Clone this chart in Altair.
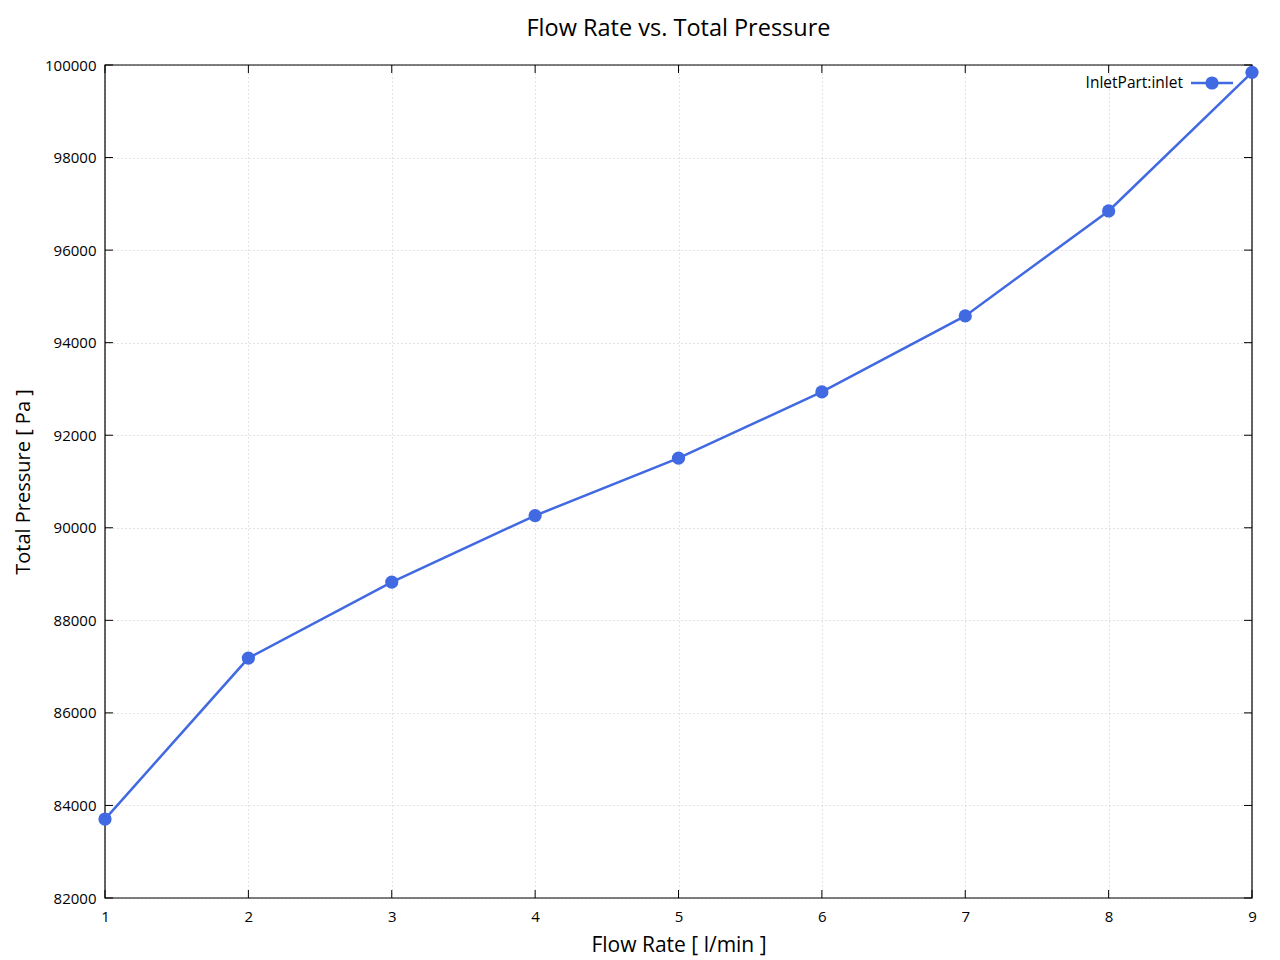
import altair as alt
import pandas as pd

flow_rate = [1, 2, 3, 4, 5, 6, 7, 8, 9]
total_pressure = [83706, 87184, 88826, 90264, 91504, 92936, 94578, 96846, 99842]
series_name = "InletPart:inlet"
x_ticks = [1, 2, 3, 4, 5, 6, 7, 8, 9]
y_ticks = [82000, 84000, 86000, 88000, 90000, 92000, 94000, 96000, 98000, 100000]

W, H = 1147, 833
FONT = "Open Sans"
COLOR = "#4169E1"

df = pd.DataFrame({"flow": flow_rate, "pressure": total_pressure, "series": series_name})
xt = pd.DataFrame({"xv": x_ticks})
yt = pd.DataFrame({"yv": y_ticks})
leg = pd.DataFrame({"series": [series_name]})

xscale = alt.Scale(domain=[1, 9], nice=False, zero=False)
yscale = alt.Scale(domain=[82000, 100000], nice=False, zero=False)

xaxis = alt.Axis(values=x_ticks, grid=True, gridDash=[1, 3], gridColor="#c8c8c8",
                 ticks=False, domain=False, labelPadding=11, labelFontSize=15,
                 labelFlush=False, labelFont=FONT, titleFont=FONT, titleFontSize=21,
                 titleFontWeight="normal", titlePadding=10, labelColor="black",
                 titleColor="black", format="d")
yaxis = alt.Axis(values=y_ticks, grid=True, gridDash=[1, 3], gridColor="#c8c8c8",
                 ticks=False, domain=False, labelPadding=9, labelFontSize=15,
                 labelFlush=False, labelFont=FONT, titleFont=FONT, titleFontSize=20,
                 titleFontWeight="normal", titlePadding=11, labelColor="black",
                 titleColor="black", format="d")

base = alt.Chart(df)
line = base.mark_line(color=COLOR, strokeWidth=2.5).encode(
    x=alt.X("flow:Q", scale=xscale, axis=xaxis, title="Flow Rate [ l/min ]"),
    y=alt.Y("pressure:Q", scale=yscale, axis=yaxis, title="Total Pressure [ Pa ]"),
)
pts = base.mark_circle(color=COLOR, opacity=1, size=175).encode(
    x=alt.X("flow:Q", scale=xscale),
    y=alt.Y("pressure:Q", scale=yscale),
)

tick_len = 8
bt = alt.Chart(xt).mark_rule(color="black", strokeWidth=1).encode(
    x=alt.X("xv:Q", scale=xscale), y=alt.value(H), y2=alt.value(H - tick_len))
tt = alt.Chart(xt).mark_rule(color="black", strokeWidth=1).encode(
    x=alt.X("xv:Q", scale=xscale), y=alt.value(0), y2=alt.value(tick_len))
lt = alt.Chart(yt).mark_rule(color="black", strokeWidth=1).encode(
    y=alt.Y("yv:Q", scale=yscale), x=alt.value(0), x2=alt.value(tick_len))
rt = alt.Chart(yt).mark_rule(color="black", strokeWidth=1).encode(
    y=alt.Y("yv:Q", scale=yscale), x=alt.value(W - tick_len), x2=alt.value(W))

frame = alt.Chart(leg).mark_rect(fillOpacity=0, stroke="black", strokeWidth=1.2).encode(
    x=alt.value(0), x2=alt.value(W), y=alt.value(0), y2=alt.value(H))

leg_text = alt.Chart(leg).mark_text(align="right", baseline="middle", font=FONT,
                                    fontSize=15.5, color="black").encode(
    text="series:N", x=alt.value(W - 69), y=alt.value(18))
leg_line = alt.Chart(leg).mark_rule(color=COLOR, strokeWidth=2.5).encode(
    x=alt.value(W - 61), x2=alt.value(W - 19), y=alt.value(18))
leg_pt = alt.Chart(leg).mark_circle(color=COLOR, opacity=1, size=175).encode(
    x=alt.value(W - 40), y=alt.value(18))

chart = alt.layer(line, frame, bt, tt, lt, rt, pts, leg_line, leg_pt, leg_text).properties(
    width=W, height=H,
    title=alt.TitleParams("Flow Rate vs. Total Pressure", font=FONT, fontSize=23.5,
                          fontWeight="normal", anchor="middle", offset=18, color="black"),
    autosize=alt.AutoSizeParams(type="none"),
    padding={"left": 97, "top": 57, "right": 20, "bottom": 60},
).configure_view(stroke=None)

chart.save("out.html", embed_options={"renderer": "svg", "actions": False})
